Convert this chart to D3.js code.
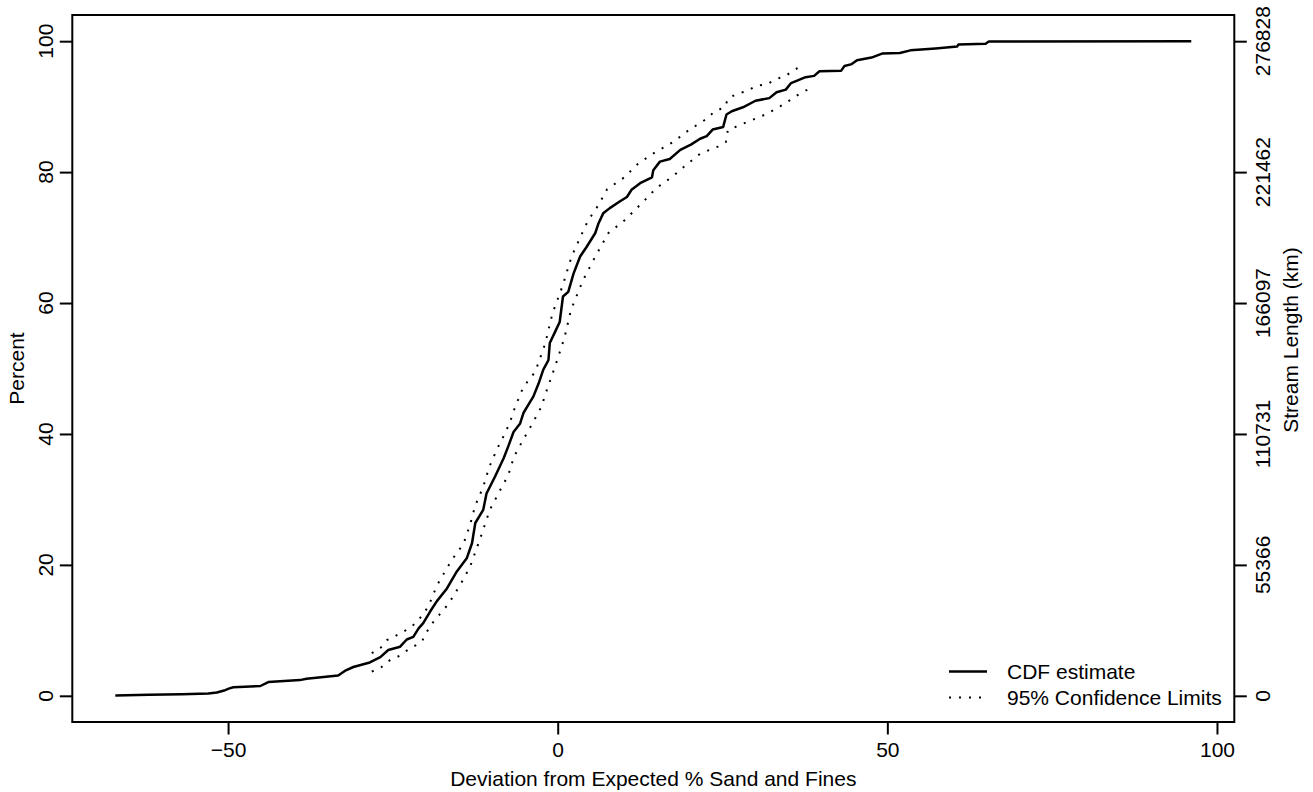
<!DOCTYPE html>
<html><head><meta charset="utf-8">
<script src="https://cdn.jsdelivr.net/npm/d3@7"></script>
<style>
body{margin:0;background:#fff}
text{font-family:"Liberation Sans",Arial,Helvetica,sans-serif;font-size:21px;fill:#000}
</style>
</head><body>
<svg id="c" width="1313" height="792"></svg>
<script>
// CDF estimate (x = deviation, y = percent)
const cdfX = [-67.1,-62.0,-57.0,-53.0,-51.7,-50.6,-49.9,-49.2,-45.1,-43.9,-39.1,-38.1,-33.3,-32.3,-31.0,-28.5,-26.9,-25.7,-23.9,-22.9,-21.9,-21.1,-20.4,-19.4,-18.3,-16.8,-15.3,-13.8,-13.0,-12.5,-11.3,-10.8,-9.5,-8.2,-7.5,-6.7,-5.7,-5.2,-4.3,-3.7,-2.9,-2.2,-1.4,-1.2,-0.4,0.3,0.8,1.6,2.4,3.4,4.4,5.7,6.2,6.9,7.9,9.4,10.5,11.2,12.5,14.3,14.5,15.5,17.0,18.6,20.2,21.6,22.6,23.5,25.1,25.6,26.4,28.1,30.0,32.1,33.2,34.6,35.4,37.6,38.9,39.7,43.0,43.5,44.6,45.4,47.6,49.2,51.9,53.5,57.3,60.6,60.8,64.9,65.4,96.1];
const cdfY = [0.05,0.15,0.25,0.35,0.5,0.8,1.1,1.3,1.5,2.1,2.4,2.6,3.1,3.8,4.4,5.1,5.9,7.0,7.5,8.6,9.0,10.3,11.1,12.8,14.5,16.4,19.0,21.0,23.3,26.4,28.4,30.9,33.5,36.3,38.1,40.3,41.6,43.2,44.7,45.7,47.7,49.8,51.3,53.9,55.6,57.1,61.0,61.7,64.5,67.1,68.6,70.7,72.2,73.7,74.5,75.5,76.2,77.3,78.3,79.2,80.3,81.6,82.0,83.4,84.2,85.1,85.5,86.5,86.9,88.8,89.3,89.9,90.9,91.3,92.2,92.6,93.6,94.5,94.7,95.4,95.5,96.2,96.5,97.1,97.5,98.1,98.2,98.6,98.9,99.2,99.5,99.6,99.95,100];

// Upper 95% confidence limit
const upperX = [-28.2,-26.9,-25.9,-24.7,-23.4,-22.1,-20.6,-19.6,-18.3,-16.1,-14.3,-13.3,-12.5,-11.3,-10.4,-9.2,-7.9,-7.2,-6.5,-5.2,-3.4,-1.9,-0.8,0.8,2.1,3.4,4.6,6.2,7.5,10.1,12.1,14.4,17.5,20.0,22.7,23.7,25.3,25.9,27.3,28.8,30.1,31.7,33.1,34.6,35.8,37.3];
const upperY = [6.5,7.3,8.5,9.1,9.8,10.6,12.2,13.7,16.9,20.7,23.2,26.1,29.1,31.9,34.9,37.7,40.3,41.9,44.0,47.2,49.5,53.8,58.4,62.8,67.1,70.0,72.6,75.0,77.4,79.2,81.2,82.8,84.6,86.5,88.2,89.2,89.9,91.3,92.0,92.4,93.2,93.4,94.2,94.7,95.6,96.3];

// Lower 95% confidence limit
const lowerX = [-28.2,-26.7,-25.4,-24.2,-22.9,-21.9,-20.6,-19.9,-19.1,-18.1,-16.6,-14.7,-13.3,-11.8,-10.3,-8.9,-7.5,-6.6,-5.3,-3.9,-2.4,-2.0,-0.4,1.0,2.0,3.8,5.7,7.7,10.1,13.1,15.0,17.4,19.6,21.6,24.3,25.5,25.8,28.6,31.5,34.2,36.6,37.9];
const lowerY = [3.7,4.4,5.5,6.0,6.9,7.5,8.3,9.7,11.0,12.2,14.0,17.1,19.7,23.9,28.4,31.1,33.7,36.6,39.0,41.5,44.3,45.7,50.3,54.6,58.9,63.4,67.1,70.7,72.6,75.6,77.6,79.3,81.2,82.8,83.9,84.6,86.4,87.6,88.8,90.3,91.9,92.6];

const xTicks = [-50, 0, 50, 100];
const yTicks = [0, 20, 40, 60, 80, 100];
const totalLength = 276828;
const rightTicks = [0, 55366, 110731, 166097, 221462, 276828];
const xTitle = "Deviation from Expected % Sand and Fines";
const yTitle = "Percent";
const y2Title = "Stream Length (km)";
const legendLabels = ["CDF estimate", "95% Confidence Limits"];

const svg = d3.select("#c");
svg.append("rect").attr("width",1313).attr("height",792).attr("fill","#fff");
const box = {l:72.3, r:1234.3, t:15, b:722};
function expand(e){const d=(e[1]-e[0])*0.04;return [e[0]-d,e[1]+d];}
const x = d3.scaleLinear().domain(expand(d3.extent(cdfX))).range([box.l, box.r]);
const y = d3.scaleLinear().domain(expand([0,100])).range([box.b, box.t]);
const y2 = d3.scaleLinear().domain(expand([0,totalLength])).range([box.b, box.t]);

// axes (ticks)
const gx = svg.append("g").attr("transform",`translate(0,${box.b})`)
  .call(d3.axisBottom(x).tickValues(xTicks).tickSize(12.5).tickPadding(8).tickFormat(d=>d<0?"\u2212"+Math.abs(d):d));
const gy = svg.append("g").attr("transform",`translate(${box.l},0)`)
  .call(d3.axisLeft(y).tickValues(yTicks).tickSize(12.5).tickFormat(""));
const gy2 = svg.append("g").attr("transform",`translate(${box.r},0)`)
  .call(d3.axisRight(y2).tickValues(rightTicks).tickSize(12.5).tickFormat(""));
[gx,gy,gy2].forEach(g=>{
  g.select(".domain").remove();
  g.selectAll(".tick line").attr("stroke","#000").attr("stroke-width",2);
  g.selectAll("text").attr("font-size",null).attr("font-family",null).attr("fill","#000");
});
gx.attr("font-size",null).attr("font-family",null);

// rotated tick labels
svg.append("g").selectAll("text").data(yTicks).join("text")
  .attr("transform",d=>`translate(52.5,${y(d)}) rotate(-90)`)
  .attr("text-anchor","middle").text(d=>d);
svg.append("g").selectAll("text").data(rightTicks).join("text")
  .attr("transform",d=>`translate(1269.5,${y2(d)}) rotate(-90)`)
  .attr("text-anchor","middle").text(d=>d);

// titles
svg.append("text").attr("x",(box.l+box.r)/2).attr("y",785.5).attr("text-anchor","middle").text(xTitle);
svg.append("text").attr("transform",`translate(23.5,${(box.t+box.b)/2}) rotate(-90)`).attr("text-anchor","middle").text(yTitle);
svg.append("text").attr("transform",`translate(1297.5,340) rotate(-90)`).attr("text-anchor","middle").text(y2Title);

// lines
const line = d3.line().x(d=>x(d[0])).y(d=>y(d[1]));
const ciStyle = s => s.attr("fill","none").attr("stroke","#000").attr("stroke-width",2).attr("stroke-dasharray","2,8");
svg.append("path").datum(upperX.map((v,i)=>[v,upperY[i]])).attr("d",line).call(ciStyle);
svg.append("path").datum(lowerX.map((v,i)=>[v,lowerY[i]])).attr("d",line).call(ciStyle);
svg.append("path").datum(cdfX.map((v,i)=>[v,cdfY[i]])).attr("d",line)
  .attr("fill","none").attr("stroke","#000").attr("stroke-width",2.5).attr("stroke-linejoin","round");

// box
svg.append("rect").attr("x",box.l).attr("y",box.t).attr("width",box.r-box.l).attr("height",box.b-box.t)
  .attr("fill","none").attr("stroke","#000").attr("stroke-width",2);

// legend
const lg = svg.append("g");
const ly = [671.5, 697.5];
lg.append("line").attr("x1",949).attr("x2",987).attr("y1",ly[0]).attr("y2",ly[0]).attr("stroke","#000").attr("stroke-width",2.5);
lg.append("line").attr("x1",949).attr("x2",987).attr("y1",ly[1]).attr("y2",ly[1]).call(ciStyle);
lg.selectAll("text").data(legendLabels).join("text").attr("x",1007).attr("y",(d,i)=>ly[i]+7.3).text(d=>d);
</script>
</body></html>
